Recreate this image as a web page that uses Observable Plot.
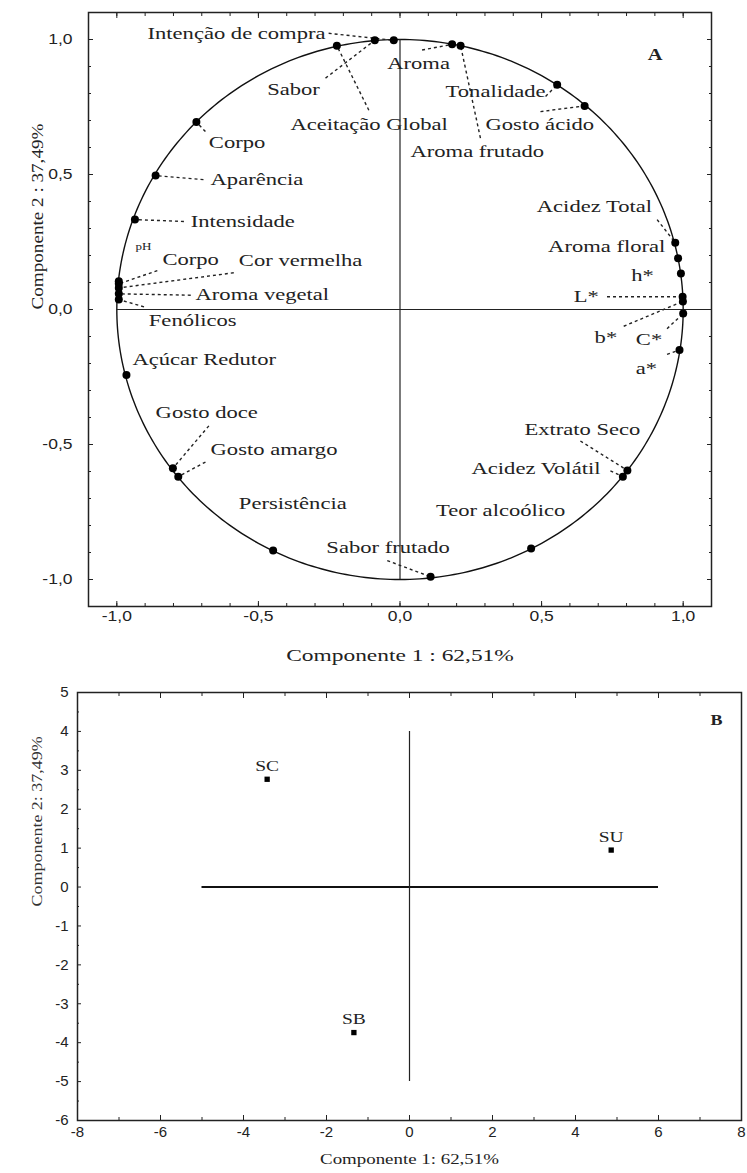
<!DOCTYPE html>
<html lang="pt">
<head>
<meta charset="utf-8">
<script src="https://cdn.jsdelivr.net/npm/d3@7"></script>
<script src="https://cdn.jsdelivr.net/npm/@observablehq/plot@0.6"></script>
<style>
html,body{margin:0;padding:0;background:#fff;}
#chartA,#chartB{display:block;width:747px;}
svg{display:block;}
</style>
</head>
<body>
<div id="chartA"></div>
<div id="chartB"></div>
<script>
// ---------- Panel A: correlation circle (loadings) ----------
const varNames = ["Aceitação Global","Sabor","Intenção de compra","Aroma","Aroma frutado","Tonalidade","Gosto ácido","Acidez Total","Aroma floral","h*","L*","b*","C*","a*","Extrato Seco","Acidez Volátil","Teor alcoólico","Sabor frutado","Persistência","Gosto amargo","Gosto doce","Açúcar Redutor","Fenólicos","Aroma vegetal","Cor vermelha","Corpo","pH","Intensidade","Aparência","Corpo"];
const comp1 = [-0.223,-0.089,-0.022,0.184,0.214,0.555,0.652,0.972,0.982,0.992,0.998,0.999,1.000,0.987,0.803,0.787,0.463,0.108,-0.448,-0.783,-0.802,-0.966,-0.993,-0.993,-0.993,-0.993,-0.993,-0.936,-0.863,-0.719];
const comp2 = [0.977,0.997,0.997,0.982,0.977,0.832,0.754,0.247,0.190,0.133,0.047,0.030,-0.015,-0.150,-0.596,-0.619,-0.885,-0.990,-0.893,-0.619,-0.588,-0.243,0.037,0.058,0.080,0.095,0.105,0.333,0.496,0.694];

// label anchor positions (data units) and text anchors
const labelX = [-0.387,-0.469,-0.263,-0.045,0.037,0.161,0.302,0.890,0.937,0.896,0.702,0.767,0.926,0.908,0.849,0.708,0.584,-0.042,-0.569,-0.669,-0.863,-0.945,-0.887,-0.722,-0.569,-0.839,-0.934,-0.739,-0.669,-0.675];
const labelY = [0.684,0.813,1.023,0.912,0.585,0.807,0.684,0.380,0.232,0.126,0.049,-0.105,-0.111,-0.219,-0.444,-0.591,-0.746,-0.881,-0.721,-0.518,-0.382,-0.187,-0.043,0.055,0.182,0.185,0.232,0.326,0.481,0.616];
const labelAnchor = ["start","start","end","start","start","start","start","end","end","end","end","end","end","end","end","end","end","middle","start","start","start","start","start","start","start","start","start","start","start","start"];
// dashed leader start points (data units), null = no leader
const leadX = [-0.110,-0.263,-0.252,0.078,0.284,0.514,0.496,0.908,null,null,0.731,0.790,0.943,0.943,0.637,0.743,null,-0.045,null,-0.687,-0.675,null,-0.904,-0.739,-0.587,-0.857,null,-0.763,-0.694,-0.687];
const leadY = [0.738,0.857,1.023,0.961,0.635,0.789,0.733,0.333,null,null,0.047,-0.062,-0.071,-0.166,-0.487,-0.598,null,-0.930,null,-0.565,-0.431,null,0.010,0.053,0.136,0.144,null,0.326,0.481,0.659];

const aMajorTicks = [-1, -0.5, 0, 0.5, 1];
const aMinorTicks = [-1.1,-1.0,-0.9,-0.8,-0.7,-0.6,-0.5,-0.4,-0.3,-0.2,-0.1,0,0.1,0.2,0.3,0.4,0.5,0.6,0.7,0.8,0.9,1.0,1.1];
const aTitleX = "Componente 1 : 62,51%";
const aTitleY = "Componente 2 : 37,49%";

// ---------- Panel B: sample scores ----------
const sampleNames = ["SC","SU","SB"];
const sampleC1 = [-3.43, 4.86, -1.34];
const sampleC2 = [2.77, 0.95, -3.74];
const bXMajorTicks = [-8,-6,-4,-2,0,2,4,6,8];
const bXMinorTicks = [-8,-7,-6,-5,-4,-3,-2,-1,0,1,2,3,4,5,6,7,8];
const bYMajorTicks = [-6,-5,-4,-3,-2,-1,0,1,2,3,4,5];
const bYMinorTicks = [-5.5,-4.5,-3.5,-2.5,-1.5,-0.5,0.5,1.5,2.5,3.5,4.5];
const bTitleX = "Componente 1: 62,51%";
const bTitleY = "Componente 2: 37,49%";

const serif = "'Liberation Serif','Times New Roman',Times,serif";
const sans = "'Liberation Sans',Arial,Helvetica,sans-serif";
const ink = "#222";

const vars = varNames.map((name, i) => ({
  name, x: comp1[i], y: comp2[i], lx: labelX[i], ly: labelY[i],
  anchor: labelAnchor[i], sx: leadX[i], sy: leadY[i]
}));
const unitCircle = d3.range(0, 361).map(a => ({cx: Math.cos(a * Math.PI / 180), cy: Math.sin(a * Math.PI / 180)}));
const fmtA = d => d.toFixed(1).replace(".", ",");
const blank = () => "";

function tickAxes(axisFn, anchors, minor, major, minorLen, majorLen) {
  const out = [];
  for (const anchor of anchors) {
    out.push(axisFn(minor, {anchor, tickSize: -minorLen, tickFormat: blank, label: null, stroke: ink}));
    out.push(axisFn(major, {anchor, tickSize: -majorLen, tickFormat: blank, label: null, stroke: ink}));
  }
  return out;
}

const labelMarks = ["start", "middle", "end"].map(a =>
  Plot.text(vars.filter(d => d.anchor === a && d.name !== "pH"), {
    x: "lx", y: "ly", text: "name", textAnchor: a, lineAnchor: "middle",
    fontFamily: serif, fontSize: 16.5, fill: ink
  })
);

const plotA = Plot.plot({
  width: 747, height: 675,
  marginTop: 12, marginRight: 36, marginBottom: 69, marginLeft: 88,
  x: {domain: [-1.1, 1.1], label: null},
  y: {domain: [-1.1, 1.1], label: null},
  style: {fontFamily: sans, fontSize: "14px", color: ink, background: "#fff", overflow: "visible"},
  marks: [
    ...tickAxes(Plot.axisX, ["bottom", "top"], aMinorTicks, aMajorTicks, 3, 5),
    ...tickAxes(Plot.axisY, ["left", "right"], aMinorTicks, aMajorTicks, 3, 5),
    Plot.axisX(aMajorTicks, {anchor: "bottom", tickSize: 0, tickPadding: 5, tickFormat: fmtA, label: null, fontSize: 14, fill: ink}),
    Plot.axisY(aMajorTicks, {anchor: "left", tickSize: 0, tickPadding: 16, tickFormat: fmtA, label: null, fontSize: 14, fill: ink}),
    Plot.frame({stroke: ink, strokeWidth: 1.5}),
    Plot.line(unitCircle, {x: "cx", y: "cy", stroke: "#111", strokeWidth: 1.4}),
    Plot.ruleX([0], {y1: -1, y2: 1, stroke: ink, strokeWidth: 1.2}),
    Plot.ruleY([0], {x1: -1, x2: 1.1, stroke: ink, strokeWidth: 1.2}),
    Plot.link(vars.filter(d => d.sx != null), {x1: "sx", y1: "sy", x2: "x", y2: "y", stroke: ink, strokeWidth: 1.4, strokeDasharray: "3,3"}),
    Plot.dot(vars, {x: "x", y: "y", r: 4, fill: "#000", stroke: null}),
    ...labelMarks,
    Plot.text(vars.filter(d => d.name === "pH"), {x: "lx", y: "ly", text: "name", textAnchor: "start", fontFamily: serif, fontSize: 10, fill: ink}),
    Plot.text(["A"], {frameAnchor: "top-right", dx: -49, dy: 35, text: d => d, fontFamily: serif, fontWeight: "bold", fontSize: 17, fill: ink}),
    Plot.text([aTitleX], {frameAnchor: "bottom", dy: 54, text: d => d, fontFamily: serif, fontSize: 16.5, fill: ink}),
    Plot.text([aTitleY], {frameAnchor: "left", dx: -51, rotate: -90, text: d => d, fontFamily: serif, fontSize: 16.5, fill: ink})
  ]
});

const samples = sampleNames.map((name, i) => ({name, x: sampleC1[i], y: sampleC2[i]}));
const fmtB = d => String(d);

const plotB = Plot.plot({
  width: 747, height: 498,
  marginTop: 17, marginRight: 6, marginBottom: 53, marginLeft: 77,
  x: {domain: [-8, 8], label: null},
  y: {domain: [-6, 5], label: null},
  style: {fontFamily: sans, fontSize: "15px", color: ink, background: "#fff", overflow: "visible"},
  marks: [
    ...tickAxes(Plot.axisX, ["bottom", "top"], bXMinorTicks, bXMajorTicks, 3, 5),
    ...tickAxes(Plot.axisY, ["left"], bYMinorTicks, bYMajorTicks, 2, 4),
    Plot.axisX(bXMajorTicks, {anchor: "bottom", tickSize: 0, tickPadding: 6, tickFormat: fmtB, label: null, fontSize: 15, fill: ink}),
    Plot.axisY(bYMajorTicks, {anchor: "left", tickSize: 0, tickPadding: 9, tickFormat: fmtB, label: null, fontSize: 15, fill: ink}),
    Plot.frame({stroke: ink, strokeWidth: 1.5}),
    Plot.ruleY([0], {x1: -5, x2: 6, stroke: "#111", strokeWidth: 2}),
    Plot.ruleX([0], {y1: -5, y2: 4, stroke: ink, strokeWidth: 1.2}),
    Plot.dot(samples, {x: "x", y: "y", symbol: "square", r: 3, fill: "#000", stroke: null}),
    Plot.text(samples, {x: "x", y: "y", text: "name", dy: -13, fontFamily: serif, fontSize: 15, fill: ink}),
    Plot.text(["B"], {frameAnchor: "top-right", dx: -19, dy: 22, text: d => d, fontFamily: serif, fontWeight: "bold", fontSize: 15, fill: ink}),
    Plot.text([bTitleX], {frameAnchor: "bottom", dy: 43, text: d => d, fontFamily: serif, fontSize: 15, fill: ink}),
    Plot.text([bTitleY], {frameAnchor: "left", dx: -40, rotate: -90, text: d => d, fontFamily: serif, fontSize: 15, fill: "#333"})
  ]
});

document.getElementById("chartA").appendChild(plotA);
document.getElementById("chartB").appendChild(plotB);

// horizontal widening of the lettering (true glyph scaling about each text's anchor)
const stretchA = {default: 1.37, "pH": 1.3, "A": 1.2, [aTitleX]: 1.42, [aTitleY]: 1.16};
const stretchB = {default: 1.3, "B": 1.2, [bTitleX]: 1.26, [bTitleY]: 1.2};
function widen(t, f) {
  if (!t.textContent) return;
  const tr = t.getAttribute("transform");
  if (tr) {
    t.setAttribute("transform", `${tr} scale(${f},1)`);
  } else {
    const x = +(t.getAttribute("x") || 0), y = +(t.getAttribute("y") || 0);
    t.removeAttribute("x"); t.removeAttribute("y");
    t.setAttribute("transform", `translate(${x},${y}) scale(${f},1)`);
  }
}
function stretch(root, table, tickFactor) {
  root.querySelectorAll("text").forEach(t => {
    const g = t.closest("g[font-family]");
    const fam = g ? g.getAttribute("font-family") : "";
    if (fam.includes("Serif")) {
      widen(t, table[t.textContent] ?? table.default);
    } else if (tickFactor && t.textContent) {
      widen(t, tickFactor);
    }
  });
}
stretch(plotA, stretchA, 1.25);
stretch(plotB, stretchB, 0);
</script>
</body>
</html>
